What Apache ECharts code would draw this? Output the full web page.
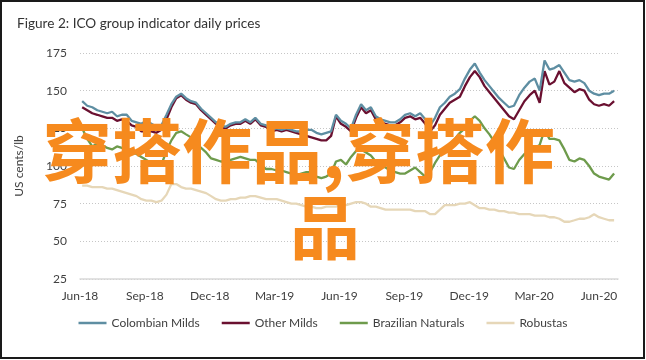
<!DOCTYPE html>
<html>
<head>
<meta charset="utf-8">
<script src="https://cdn.jsdelivr.net/npm/echarts@6/dist/echarts.min.js"></script>
<style>
html,body{margin:0;padding:0;background:#fff;}
#chart{width:646px;height:360px;}
</style>
</head>
<body>
<div id="chart"></div>
<script>
// Weekly observations starting 2018-06-04
const startDate = '2018-06-04';
const tickLabels = ['Jun-18','Sep-18','Dec-18','Mar-19','Jun-19','Sep-19','Dec-19','Mar-20','Jun-20'];
const seriesNames = ['Colombian Milds','Other Milds','Brazilian Naturals','Robustas'];

const colombianMilds = [143,140,139,137,136,135,136,133,134,134,130,129,128,130,128,126,127,134,141,146,
  148,145,143,142,138,135,132,129,127,126,128,129,129,131,129,132,128,127,124,125,
  124,125,124,123,123,124,124,122,121,122,123,134,130,128,125,134,141,137,139,133,
  131,130,129,129,131,134,135,133,135,131,127,132,139,142,146,148,151,158,164,168,
  162,157,153,149,145,142,139,140,147,152,156,158,150,170,164,165,167,162,157,156,
  157,155,150,148,147,148,148,150];
const otherMilds = [139,137,135,134,133,132,132,130,131,130,127,126,123,123,123,122,124,131,139,145,
  147,144,142,141,137,134,131,128,126,125,127,128,128,130,128,131,127,126,123,124,
  123,124,123,122,121,120,119,118,117,117,120,133,128,126,123,132,139,135,137,131,
  129,128,127,127,129,132,133,131,132,128,123,127,134,138,142,144,146,153,159,163,
  159,153,149,145,141,137,133,131,137,143,147,150,142,163,154,156,163,155,152,149,
  151,150,144,141,140,141,140,143];
const brazilianNaturals = [125,118,113,115,114,112,111,113,112,112,109,108,106,104,102,100,101,110,117,122,
  123,121,119,115,112,109,105,104,103,103,104,105,106,105,104,104,101,98,98,97,
  97,96,95,94,95,96,96,93,92,93,95,103,104,101,106,110,111,109,107,103,
  100,99,97,96,95,95,97,99,96,93,96,102,107,111,114,118,122,125,130,133,
  130,125,121,116,111,105,99,98,104,108,110,112,114,124,118,118,117,111,104,103,
  105,104,100,95,93,92,91,95];
const robustas = [87,87,86,86,86,85,85,84,83,82,81,80,78,77,77,76,77,81,88,88,
  86,85,85,84,83,82,80,78,77,77,78,78,79,79,80,80,79,78,78,78,
  77,76,75,75,74,73,73,72,72,73,73,73,75,74,75,76,76,75,73,73,
  72,71,71,71,71,71,71,70,70,70,68,68,71,74,74,74,75,75,76,74,
  72,72,71,71,70,70,69,69,68,68,68,67,67,67,66,66,65,63,63,64,
  65,65,66,68,66,65,64,64];

const colors = ['#5E8EA2','#6A1030','#6E9B4C','#E6D7B8'];

// date -> months since 2018-06-01
function toMonths(d){
  const y=d.getUTCFullYear(), m=d.getUTCMonth(), day=d.getUTCDate();
  const dim=new Date(Date.UTC(y,m+1,0)).getUTCDate();
  return (y-2018)*12+(m-5)+(day-1)/dim;
}
const t0 = new Date(startDate+'T00:00:00Z');
function weekX(i){ return toMonths(new Date(t0.getTime()+i*7*86400000)); }
function build(vals){ return vals.map((v,i)=>[weekX(i),v]); }

const allVals=[colombianMilds,otherMilds,brazilianNaturals,robustas];
const font='Lato';
const chart=echarts.init(document.getElementById('chart'),null,{renderer:'canvas'});
const series=[3,2,1,0].map(i=>({
  name:seriesNames[i],type:'line',data:build(allVals[i]),
  showSymbol:false,symbol:'none',smooth:false,
  lineStyle:{color:colors[i],width:2.3},itemStyle:{color:colors[i]},
  z:2+(3-i)
}));
chart.setOption({
  animation:false,
  backgroundColor:'#fff',
  textStyle:{fontFamily:font},
  title:{text:'Figure 2: ICO group indicator daily prices',left:12,top:12,
    textStyle:{fontFamily:font,fontSize:13.6,fontWeight:'normal',color:'#333'}},
  grid:{left:80,right:28,top:53,bottom:81,outerBoundsMode:'none',containLabel:false},
  legend:{data:seriesNames,bottom:26,left:'center',icon:'rect',itemWidth:28,itemHeight:2.5,itemGap:22,
    textStyle:{fontFamily:font,fontSize:12,color:'#404040'}},
  xAxis:{type:'value',min:0,max:24.88,interval:3,
    axisLine:{show:true,lineStyle:{color:'#d9d9d9',width:1.5}},axisTick:{show:false},
    splitLine:{show:false},
    axisLabel:{margin:11,fontFamily:font,fontSize:12,color:'#404040',
      formatter:v=>tickLabels[Math.round(v/3)]||''}},
  yAxis:{type:'value',min:25,max:175,interval:25,
    name:'US cents/lb',nameLocation:'middle',nameGap:55,nameRotate:90,
    nameTextStyle:{fontFamily:font,fontSize:12,color:'#404040'},
    axisLine:{show:false},axisTick:{show:false},
    axisLabel:{margin:13,fontFamily:font,fontSize:12,color:'#404040'},
    splitLine:{show:true,lineStyle:{color:'#c6c6c6',type:[1,2],width:1}}},
  series:series,
  graphic:[
    {type:'rect',shape:{x:1,y:1,width:643,height:357},style:{fill:'none',stroke:'#1a1a1a',lineWidth:2},z:100},
    {type:'text',left:42,top:116,z:50,style:{text:'穿搭作品,穿搭作',fill:'#F68A1E',
      font:'bold 70px "Noto Sans CJK SC"'}},
    {type:'text',left:290,top:192,z:50,style:{text:'品',fill:'#F68A1E',
      font:'bold 70px "Noto Sans CJK SC"'}}
  ]
});
</script>
</body>
</html>
